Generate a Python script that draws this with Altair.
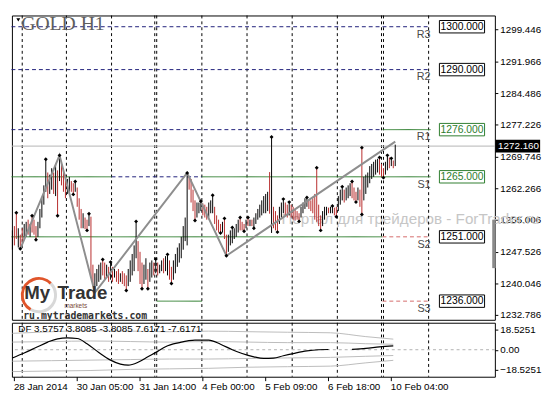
import json
import altair as alt
import pandas as pd

# ---------------- data ----------------
lows = [
    1248.0, 1249.0, 1250.5, 1248.5, 1248.2, 1249.5, 1250.5, 1251.0, 1251.5, 1251.0,
    1252.0, 1251.5, 1250.3, 1251.0, 1253.0, 1255.5, 1258.5, 1261.5, 1260.0, 1261.0,
    1262.0, 1261.0, 1260.5, 1255.9, 1264.0, 1263.0, 1261.5, 1260.0, 1261.0, 1261.5,
    1261.5, 1260.9, 1261.5, 1258.0, 1255.0, 1253.0, 1253.0, 1252.8, 1252.5, 1253.5,
    1241.5, 1239.5, 1238.0, 1239.5, 1240.5, 1241.0, 1242.0, 1241.0, 1241.5, 1240.5,
    1241.0, 1240.5, 1241.5, 1240.5, 1240.0, 1240.5, 1240.0, 1239.5, 1238.5, 1239.5,
    1240.5, 1242.0, 1243.0, 1246.0, 1243.0, 1240.0, 1238.9, 1240.0, 1241.0, 1238.9,
    1240.5, 1241.5, 1242.0, 1242.5, 1242.0, 1242.5, 1243.0, 1242.5, 1243.0, 1242.0,
    1241.0, 1240.1, 1241.0, 1242.5, 1244.0, 1245.0, 1246.0, 1248.0, 1250.0, 1249.0,
    1262.0, 1259.0, 1257.0, 1254.8, 1255.5, 1256.5, 1257.0, 1256.0, 1255.5, 1255.0,
    1255.5, 1256.5, 1256.5, 1254.0, 1252.5, 1252.0, 1251.9, 1252.0, 1250.5, 1246.6,
    1247.5, 1249.0, 1249.5, 1250.5, 1251.0, 1252.0, 1252.5, 1252.5, 1252.3, 1253.0,
    1253.5, 1253.5, 1253.5, 1253.0, 1254.0, 1255.0, 1255.5, 1256.0, 1256.5, 1256.5,
    1257.0, 1256.4, 1251.9, 1253.0, 1252.5, 1252.1, 1254.0, 1255.5, 1256.5, 1256.0,
    1255.5, 1256.0, 1255.5, 1255.0, 1254.8, 1255.0, 1254.6, 1255.5, 1256.5, 1257.5,
    1258.0, 1257.5, 1257.0, 1256.5, 1255.0, 1254.5, 1253.5, 1252.5, 1253.5, 1255.0,
    1256.0, 1256.5, 1256.5, 1256.5, 1256.0, 1255.7, 1257.0, 1258.5, 1259.5, 1259.0,
    1259.5, 1260.0, 1260.5, 1260.0, 1259.5, 1259.1, 1259.5, 1258.0, 1256.2, 1259.5,
    1261.0, 1262.5, 1263.5, 1264.5, 1265.0, 1265.5, 1266.0, 1265.5, 1265.0, 1264.8,
    1265.5, 1266.5, 1267.0, 1267.5, 1267.0, 1267.5,
]
highs = [
    1252.5, 1253.5, 1256.6, 1253.0, 1251.5, 1253.0, 1254.0, 1254.5, 1255.0, 1254.0,
    1255.9, 1255.0, 1253.5, 1254.5, 1257.5, 1260.0, 1263.0, 1269.1, 1266.0, 1265.5,
    1267.0, 1266.0, 1268.0, 1266.5, 1270.0, 1268.5, 1267.0, 1265.5, 1264.5, 1265.0,
    1264.0, 1263.5, 1263.9, 1262.5, 1260.0, 1257.5, 1256.5, 1255.5, 1255.0, 1256.4,
    1255.7, 1244.5, 1242.5, 1243.5, 1244.5, 1245.0, 1245.7, 1245.0, 1244.5, 1244.0,
    1245.1, 1244.0, 1243.5, 1243.0, 1243.5, 1242.5, 1243.0, 1242.5, 1242.0, 1243.5,
    1245.5, 1247.0, 1249.0, 1254.6, 1250.0, 1247.5, 1245.0, 1244.5, 1246.0, 1243.5,
    1245.0, 1245.5, 1245.0, 1245.8, 1245.0, 1244.5, 1245.5, 1246.0, 1246.5, 1246.9,
    1245.5, 1244.0, 1245.5, 1247.0, 1248.5, 1249.5, 1251.0, 1253.5, 1255.5, 1265.9,
    1265.0, 1264.5, 1262.0, 1259.5, 1259.0, 1259.0, 1259.3, 1258.8, 1258.5, 1258.0,
    1259.0, 1259.5, 1260.7, 1258.0, 1256.0, 1255.0, 1254.0, 1254.5, 1255.3, 1251.5,
    1251.5, 1252.5, 1253.2, 1253.0, 1254.0, 1255.0, 1255.5, 1254.5, 1254.0, 1255.0,
    1255.5, 1255.0, 1255.0, 1255.5, 1256.5, 1257.5, 1258.5, 1259.5, 1260.5, 1261.0,
    1261.5, 1266.1, 1274.3, 1258.0, 1257.0, 1256.0, 1258.0, 1259.0, 1259.8, 1259.0,
    1258.5, 1259.1, 1258.5, 1258.0, 1257.5, 1257.0, 1256.5, 1258.0, 1259.0, 1260.0,
    1260.2, 1259.8, 1259.5, 1260.0, 1261.0, 1267.1, 1258.5, 1256.0, 1257.0, 1258.0,
    1258.0, 1257.8, 1258.0, 1258.2, 1257.8, 1258.0, 1260.5, 1262.0, 1262.7, 1262.0,
    1262.5, 1263.0, 1263.5, 1263.9, 1262.5, 1261.5, 1262.5, 1262.0, 1271.8, 1265.0,
    1265.5, 1266.0, 1267.5, 1268.0, 1268.5, 1269.0, 1269.2, 1269.5, 1268.0, 1267.0,
    1268.5, 1270.0, 1269.5, 1269.3, 1268.8, 1272.5,
]
# u = up bar (black), d = down bar (red)
directions = "".join([
    "uddudduudu", "ddduuuuudu", "udududdduu", "dduddduddu", "dduuuuddud",
    "ududdudddu", "uuuuddduud", "uududuuduu", "dduuuuuuuu", "dddduuuddd",
    "uuuddddudd", "uuuuuudddu", "duduuuuuuu", "ududdduuud", "duddddduuu",
    "uddddddduu", "uduudduuud", "uuuddduddu", "uuuuuuuddd", "uududu",
])

fractal_i = [2, 4, 10, 12, 17, 23, 24, 31, 32, 38, 39, 46, 50, 58, 63, 66, 69, 73, 79, 81,
             89, 93, 96, 102, 106, 108, 109, 112, 116, 118, 120, 123, 132, 135, 138, 141,
             146, 150, 155, 157, 163, 165, 168, 173, 175, 178, 178, 187, 189, 191, 193]
fractal_p = [1256.6, 1248.2, 1255.9, 1250.3, 1269.1, 1255.9, 1270.0, 1260.9, 1263.9, 1252.5,
             1256.4, 1245.7, 1245.1, 1238.5, 1254.6, 1238.9, 1238.9, 1245.8, 1246.9, 1240.1,
             1265.9, 1254.8, 1259.3, 1260.7, 1251.9, 1255.3, 1246.6, 1253.2, 1255.5, 1252.3,
             1255.5, 1253.0, 1274.3, 1252.1, 1259.8, 1259.1, 1254.6, 1260.2, 1267.1, 1252.5,
             1258.2, 1255.7, 1262.7, 1263.9, 1259.1, 1271.8, 1256.2, 1269.5, 1264.8, 1270.0,
             1269.3]

zigzag_i = [4, 24, 42, 89, 109, 195]
zigzag_p = [1248.2, 1270.0, 1238.0, 1265.9, 1246.6, 1273.2]

grid_i = [5, 27.5, 50.5, 73.5, 96.5, 119.5, 142.5, 165.5, 189, 212]
separator_i = [72.5, 188]

pivot_names = ["R3", "R2", "R1", "S1", "S2", "S3"]
pivot_levels = [1300.0, 1290.0, 1276.0, 1265.0, 1251.0, 1236.0]
pivot_box = ["black", "black", "green", "green", "black", "black"]

seg_level = [1300, 1290, 1276, 1276, 1265, 1265, 1265, 1251, 1251, 1236, 1236]
seg_from = [-0.5, -0.5, -0.5, 188.5, -0.5, 50.5, 96.5, -0.5, 188.5, 73.5, 188.5]
seg_to = [213, 213, 188.5, 213, 50.5, 96.5, 213, 188.5, 213, 96.5, 213]
seg_style = ["navy", "navy", "navy", "green", "green", "navy", "green", "green", "red", "green", "red"]

price_ticks = [1299.446, 1291.966, 1284.486, 1277.226, 1269.746,
               1262.266, 1255.006, 1247.526, 1240.046, 1232.786]
last_price = 1272.16

df1_i = [0, 6, 12, 18, 23, 28, 33, 38, 44, 50, 55, 59, 64, 69, 74, 78, 85, 93, 100,
         106, 112, 117, 123, 128, 133, 138, 143, 150, 156, 161]
df1_v = [-7.5, -3.0, 2.0, 7.0, 10.0, 10.8, 10.3, 5.5, -2.5, -9.5, -13.2, -14.1, -11.5,
         -6.5, -1.5, 2.8, 6.5, 8.8, 8.8, 5.0, 0.0, -3.5, -6.5, -7.9, -7.7, -5.5, -3.5,
         -1.0, 0.0, 0.2]
df2_i = [173, 180, 187, 194]
df2_v = [0.3, 1.2, 2.6, 3.6]

band_i = [0, 20, 40, 60, 80, 100, 120, 140, 162, 180, 194]
band_up_outer = [15.0, 16.5, 17.5, 17.0, 16.5, 17.0, 16.5, 16.0, 15.5, 12.0, 9.7]
band_up_inner = [7.0, 7.5, 8.0, 7.5, 7.0, 7.5, 7.0, 6.5, 6.5, 5.5, 5.0]
band_lo_inner = [-10.5, -10.0, -9.5, -9.0, -8.5, -8.5, -8.0, -7.5, -7.0, -6.0, -5.3]
band_lo_outer = [-20.0, -19.5, -19.0, -18.0, -17.5, -17.0, -16.0, -15.5, -15.0, -12.0, -9.7]

df_ticks = [18.5251, 0.0, -18.5251]
df_label = "DF 3.5757 3.8085 -3.8085 7.6171 -7.6171"

time_ticks = [0.5, 32.5, 64.5, 96.5, 128.5, 160.5, 192.5]
time_labels = ["28 Jan 2014", "30 Jan 05:00", "31 Jan 14:00", "4 Feb 00:00",
               "5 Feb 09:00", "6 Feb 18:00", "10 Feb 04:00"]

title_text = "GOLD H1"
watermark = "Портал для трейдеров - ForTrader.ru"

# ---------------- chart ----------------
W, H1, H2 = 492, 310, 55
xs = alt.Scale(domain=[-0.25, 245.75], nice=False, zero=False)
ys = alt.Scale(domain=[1231.65, 1302.62], nice=False, zero=False)
vs = alt.Scale(domain=[-24.7, 24.7], nice=False, zero=False)
FONT = "Liberation Sans"

price_axis = alt.Axis(orient="right", values=price_ticks, format=".3f", title=None,
                      domain=False, grid=False, tickSize=3, labelPadding=2,
                      labelFontSize=10, labelFont=FONT, labelColor="black")
time_axis = alt.Axis(values=time_ticks, title=None, grid=False, domain=False,
                     labelExpr=f"{json.dumps(time_labels)}[round((datum.value - 0.5) / 32)]",
                     labelAlign="left", labelFlush=False, labelOverlap=False,
                     tickSize=4, labelPadding=1, labelFontSize=10, labelFont=FONT,
                     labelColor="black")
df_axis = alt.Axis(orient="right", values=df_ticks, title=None, grid=False, domain=False,
                   labelExpr="datum.value == 0 ? '0.00' : format(datum.value, '.4f')",
                   tickSize=3, labelPadding=2, labelFontSize=10, labelFont=FONT,
                   labelColor="black")


def X(f="i"):
    return alt.X(f"{f}:Q", scale=xs, axis=None)


def Y(f="p"):
    return alt.Y(f"{f}:Q", scale=ys, axis=price_axis)


def XI(f="i"):
    return alt.X(f"{f}:Q", scale=xs, axis=time_axis)


def V(f="v"):
    return alt.Y(f"{f}:Q", scale=vs, axis=df_axis)


def one(**kw):
    return pd.DataFrame({k: [v] for k, v in kw.items()})


bars_df = pd.DataFrame({"i": list(range(len(lows))), "lo": lows, "hi": highs,
                        "d": list(directions)})

wm = alt.Chart(one(i=268.5, p=1255.2)).mark_text(
    text=watermark, align="right", baseline="middle", font=FONT, fontSize=15.5,
    color="#c6c6c6").encode(x=X(), y=Y())

grid = alt.Chart(pd.DataFrame({"i": grid_i + separator_i})).mark_rule(
    color="black", strokeDash=[3, 3], strokeWidth=1).encode(x=X())

seg_df = pd.DataFrame({"lvl": seg_level, "a": seg_from, "b": seg_to, "s": seg_style})
seg_layers = []
for style, col, dash in [("navy", "#1f1f7a", [4, 3]), ("green", "#2d7d2d", [1, 0]),
                         ("red", "#d46a6a", [4, 3])]:
    seg_layers.append(
        alt.Chart(seg_df).transform_filter(f"datum.s == '{style}'").mark_rule(
            color=col, strokeDash=dash, strokeWidth=1).encode(
            x=X("a"), x2="b:Q", y=Y("lvl")))

cur = alt.Chart(one(p=last_price)).mark_rule(color="#b5b5b5", strokeWidth=1).encode(y=Y())

bars_up = alt.Chart(bars_df).transform_filter("datum.d == 'u'").mark_rule(
    color="black", strokeWidth=1).encode(x=X(), y=Y("lo"), y2="hi:Q")
bars_dn = alt.Chart(bars_df).transform_filter("datum.d == 'd'").mark_rule(
    color="#b82c2c", strokeWidth=1).encode(x=X(), y=Y("lo"), y2="hi:Q")

zig = alt.Chart(pd.DataFrame({"i": zigzag_i, "p": zigzag_p})).mark_line(
    color="#8e8e8e", strokeWidth=2).encode(x=X(), y=Y(), order="i:Q")

frac = alt.Chart(pd.DataFrame({"i": fractal_i, "p": fractal_p})).mark_point(
    shape="diamond", filled=True, color="black", size=16, opacity=1).encode(x=X(), y=Y())

piv_df = pd.DataFrame({"n": pivot_names, "lvl": pivot_levels, "c": pivot_box,
                       "t": [f"{v:.3f}" for v in pivot_levels]})
piv_df["y1"] = piv_df["lvl"] - 1.45
piv_df["y2"] = piv_df["lvl"] + 1.45
piv_df["a"] = 217.5
piv_df["b"] = 240.5
piv_df["m"] = 229.0
piv_df["r"] = 213.0

piv_names = alt.Chart(piv_df).mark_text(
    align="right", baseline="top", dy=2, font=FONT, fontSize=11, color="#4a4a4a").encode(
    x=X("r"), y=Y("lvl"), text="n:N")
box_layers = []
for c, col in [("black", "black"), ("green", "#2d7d2d")]:
    sub = alt.Chart(piv_df).transform_filter(f"datum.c == '{c}'")
    box_layers.append(sub.mark_rect(fill="white", stroke=col, strokeWidth=1).encode(
        x=X("a"), x2="b:Q", y=Y("y1"), y2="y2:Q"))
    box_layers.append(sub.mark_text(align="center", baseline="middle", font=FONT,
                                    fontSize=10.5, color=col).encode(
        x=X("m"), y=Y("lvl"), text="t:N"))

title = alt.Chart(one(i=4.5, p=1300.7)).mark_text(
    text=title_text, align="left", baseline="middle", font="Liberation Serif",
    fontSize=20, color="#5e5e5e").encode(x=X(), y=Y())
tri = alt.Chart(one(i=3.0, p=1301.6)).mark_point(
    shape="triangle-down", filled=True, color="black", size=16, opacity=1).encode(x=X(), y=Y())

# logo
ring_a = alt.Chart(one(i=13.5, p=1237.4)).mark_point(
    shape="M -0.5 0.866 A 1 1 0 1 1 0.707 -0.707", filled=False, stroke="#e0552b",
    strokeWidth=3, size=1150, opacity=1).encode(x=X(), y=Y())
ring_b = alt.Chart(one(i=13.5, p=1237.4)).mark_point(
    shape="M 0.707 -0.707 A 1 1 0 0 1 -0.5 0.866", filled=False, stroke="#d8d8d8",
    strokeWidth=3, size=1150, opacity=1).encode(x=X(), y=Y())
logo_my = alt.Chart(one(i=6.0, p=1237.8)).mark_text(
    text="My", align="left", baseline="middle", font=FONT, fontSize=19, fontWeight="bold",
    color="#333333").encode(x=X(), y=Y())
logo_trade = alt.Chart(one(i=23.0, p=1237.8)).mark_text(
    text="Trade", align="left", baseline="middle", font=FONT, fontSize=19, fontWeight="bold",
    color="#333333").encode(x=X(), y=Y())
logo_mk = alt.Chart(one(i=26.5, p=1234.9)).mark_text(
    text="markets", align="left", baseline="middle", font=FONT, fontSize=6.5,
    color="#7a4a3a").encode(x=X(), y=Y())
logo_url = alt.Chart(one(i=5.5, p=1232.6)).mark_text(
    text="ru.mytrademarkets.com", align="left", baseline="middle", font="DejaVu Sans Mono",
    fontSize=10, fontWeight="bold", color="#333333").encode(x=X(), y=Y())

scroll = alt.Chart(one(a=244.4, b=246.2, p1=1243.7, p2=1255.0)).mark_rect(
    color="#8a8a8a").encode(x=X("a"), x2="b:Q", y=Y("p1"), y2="p2:Q")

cur_box = alt.Chart(one(a=246.0, b=268.8, p1=last_price - 1.5, p2=last_price + 1.5)).mark_rect(
    color="black").encode(x=X("a"), x2="b:Q", y=Y("p1"), y2="p2:Q")
cur_txt = alt.Chart(one(i=247.4, p=last_price)).mark_text(
    text=f"{last_price:.3f}", align="left", baseline="middle", font=FONT, fontSize=10,
    color="white").encode(x=X(), y=Y())

main = alt.layer(
    wm, grid, *seg_layers, cur, bars_up, bars_dn, zig, frac, piv_names, *box_layers,
    title, tri, ring_b, ring_a, logo_my, logo_trade, logo_mk, logo_url, scroll, cur_box, cur_txt,
).properties(width=W, height=H1)

# ---------------- indicator panel ----------------
bands_df = pd.concat([
    pd.DataFrame({"i": band_i, "v": band_up_outer, "s": "uo"}),
    pd.DataFrame({"i": band_i, "v": band_up_inner, "s": "ui"}),
    pd.DataFrame({"i": band_i, "v": band_lo_inner, "s": "li"}),
    pd.DataFrame({"i": band_i, "v": band_lo_outer, "s": "lo"}),
])

grid2 = alt.Chart(pd.DataFrame({"i": grid_i + separator_i})).mark_rule(
    color="black", strokeDash=[3, 3], strokeWidth=1).encode(x=XI())
zero = alt.Chart(one(v=0.0)).mark_rule(color="#b0b0b0", strokeDash=[3, 3]).encode(y=V())
bands = alt.Chart(bands_df).mark_line(color="#bcbcbc", strokeWidth=1,
                                      interpolate="monotone").encode(
    x=XI(), y=V(), detail="s:N", order="i:Q")
dfl1 = alt.Chart(pd.DataFrame({"i": df1_i, "v": df1_v})).mark_line(
    color="black", strokeWidth=1.2, interpolate="monotone").encode(x=XI(), y=V(), order="i:Q")
dfl2 = alt.Chart(pd.DataFrame({"i": df2_i, "v": df2_v})).mark_line(
    color="black", strokeWidth=1.2, interpolate="monotone").encode(x=XI(), y=V(), order="i:Q")
dftxt = alt.Chart(one(i=3.0, v=19.0)).mark_text(
    text=df_label, align="left", baseline="middle", font=FONT, fontSize=10,
    color="black").encode(x=XI(), y=V())

ind = alt.layer(grid2, zero, bands, dfl1, dfl2, dftxt).properties(width=W, height=H2)

chart = alt.vconcat(main, ind, spacing=0).properties(
    padding={"left": 1, "top": 1, "right": 0, "bottom": 0}, background="white"
).configure_view(stroke="black", strokeWidth=1).configure_axis(
    tickColor="black", labelFont=FONT)

chart.save("out.html", embed_options={"renderer": "svg", "actions": False})
